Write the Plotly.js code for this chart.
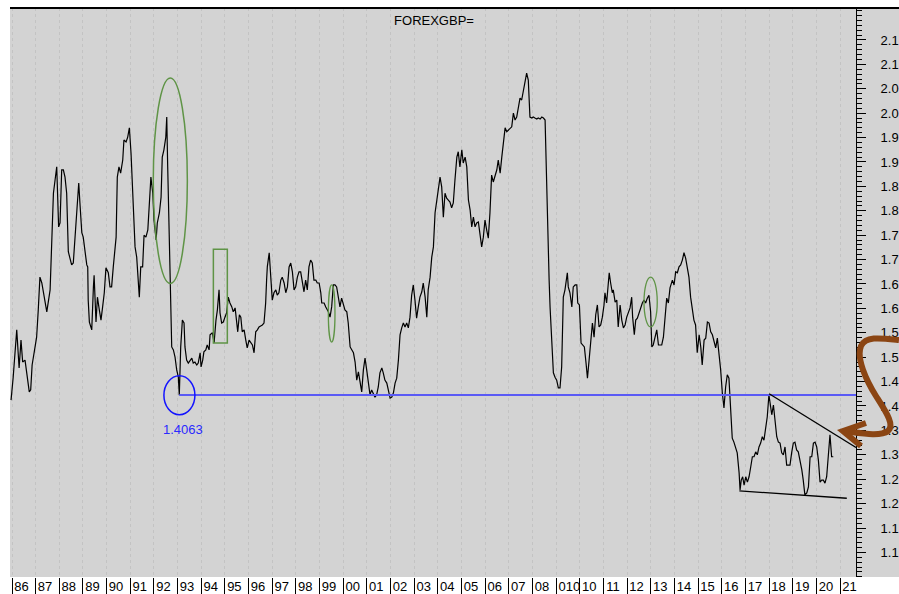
<!DOCTYPE html>
<html>
<head>
<meta charset="utf-8">
<script src="https://cdn.plot.ly/plotly-3.0.1.min.js"></script>
<style>html,body{margin:0;padding:0;background:#fff;}#chart{width:899px;height:594px;}</style>
</head>
<body>
<div id="chart"></div>
<script>
// ---- data (monthly-ish GBP/USD, decimal years) ----
const dates = [
1985.96,1986.05,1986.20,1986.30,1986.38,1986.45,1986.55,1986.62,1986.73,1986.79,1986.85,1986.94,
1987.04,1987.11,1987.18,1987.26,1987.37,1987.47,1987.61,1987.68,1987.75,1987.82,1987.89,1987.97,
1988.03,1988.10,1988.17,1988.24,1988.31,1988.38,1988.45,1988.52,1988.59,1988.66,1988.73,1988.82,1988.87,1988.95,
1989.01,1989.09,1989.16,1989.20,1989.22,1989.27,1989.37,1989.44,1989.47,1989.55,1989.61,1989.69,1989.76,1989.83,1989.90,1989.97,
1990.07,1990.14,1990.21,1990.28,1990.35,1990.40,1990.45,1990.52,1990.59,1990.68,1990.73,1990.82,1990.89,1990.96,
1991.03,1991.10,1991.16,1991.20,1991.27,1991.34,1991.38,1991.44,1991.52,1991.58,1991.66,1991.74,1991.80,1991.87,1991.95,
1992.00,1992.09,1992.14,1992.23,1992.30,1992.35,1992.42,1992.50,1992.54,1992.58,1992.64,1992.68,1992.71,1992.75,1992.82,1992.89,1992.96,
1993.03,1993.07,1993.13,1993.20,1993.27,1993.31,1993.38,1993.45,1993.52,1993.60,1993.66,1993.73,1993.81,1993.87,1993.95,1993.99,
1994.06,1994.11,1994.19,1994.25,1994.33,1994.37,1994.47,1994.54,1994.62,1994.68,1994.75,1994.79,1994.86,1994.93,
1995.00,1995.07,1995.14,1995.21,1995.29,1995.35,1995.43,1995.50,1995.54,1995.61,1995.67,1995.73,1995.81,1995.88,1995.94,
1996.02,1996.09,1996.16,1996.23,1996.30,1996.37,1996.44,1996.51,1996.58,1996.65,1996.72,1996.76,1996.79,1996.87,1996.93,
1997.00,1997.07,1997.15,1997.21,1997.28,1997.36,1997.42,1997.50,1997.57,1997.64,1997.71,1997.78,1997.85,1997.92,1997.99,
1998.06,1998.13,1998.20,1998.27,1998.34,1998.41,1998.48,1998.55,1998.62,1998.69,1998.76,1998.84,1998.90,1998.98,
1999.05,1999.09,1999.19,1999.26,1999.37,1999.44,1999.51,1999.58,1999.65,1999.72,1999.79,1999.86,1999.93,
2000.00,2000.07,2000.15,2000.21,2000.29,2000.36,2000.43,2000.50,2000.57,2000.64,2000.71,2000.78,2000.85,2000.92,2000.99,
2001.06,2001.13,2001.20,2001.27,2001.34,2001.41,2001.48,2001.55,2001.63,2001.69,2001.76,2001.84,2001.90,2001.98,
2002.05,2002.12,2002.19,2002.26,2002.33,2002.40,2002.47,2002.54,2002.61,2002.68,2002.75,2002.82,2002.89,2002.96,
2003.03,2003.10,2003.17,2003.24,2003.32,2003.38,2003.46,2003.53,2003.59,2003.67,2003.74,2003.81,2003.88,2003.95,
2004.02,2004.09,2004.16,2004.23,2004.30,2004.37,2004.44,2004.51,2004.58,2004.65,2004.72,2004.80,2004.86,2004.93,
2005.01,2005.07,2005.15,2005.22,2005.29,2005.36,2005.43,2005.50,2005.57,2005.64,2005.71,2005.78,2005.85,2005.92,2005.99,
2006.06,2006.13,2006.20,2006.27,2006.34,2006.41,2006.49,2006.55,2006.63,2006.70,2006.76,2006.84,2006.91,2006.98,
2007.05,2007.12,2007.19,2007.26,2007.33,2007.40,2007.47,2007.54,2007.61,2007.68,2007.75,2007.82,2007.89,2007.97,
2008.03,2008.10,2008.18,2008.24,2008.32,2008.39,2008.46,2008.53,2008.60,2008.67,2008.70,2008.74,2008.81,2008.88,2008.95,
2009.02,2009.09,2009.16,2009.23,2009.30,2009.37,2009.44,2009.47,2009.51,2009.58,2009.66,2009.72,2009.80,2009.87,2009.91,2009.98,
2010.05,2010.12,2010.19,2010.26,2010.32,2010.39,2010.46,2010.53,2010.60,2010.67,2010.74,2010.81,2010.88,2010.95,
2011.02,2011.06,2011.13,2011.20,2011.24,2011.30,2011.37,2011.41,2011.49,2011.56,2011.62,2011.70,2011.77,2011.84,2011.91,2011.98,
2012.05,2012.12,2012.19,2012.23,2012.30,2012.36,2012.43,2012.50,2012.57,2012.64,2012.71,2012.78,2012.85,2012.92,2012.99,
2013.04,2013.10,2013.18,2013.25,2013.32,2013.39,2013.46,2013.53,2013.60,2013.67,2013.74,2013.81,2013.91,2013.98,
2014.05,2014.12,2014.19,2014.26,2014.33,2014.40,2014.47,2014.54,2014.61,2014.68,2014.75,2014.82,2014.89,2014.96,
2015.04,2015.11,2015.17,2015.25,2015.32,2015.39,2015.46,2015.53,2015.60,2015.67,2015.74,2015.81,2015.88,2015.95,
2016.02,2016.09,2016.16,2016.23,2016.30,2016.37,2016.44,2016.51,2016.59,2016.65,2016.73,2016.77,2016.82,2016.88,2016.94,
2017.01,2017.08,2017.15,2017.22,2017.29,2017.36,2017.43,2017.50,2017.57,2017.64,2017.71,2017.78,2017.85,2017.92,2017.99,
2018.03,2018.11,2018.18,2018.25,2018.32,2018.39,2018.46,2018.53,2018.60,2018.67,2018.74,2018.81,2018.88,2018.95,
2019.02,2019.09,2019.16,2019.23,2019.31,2019.38,2019.44,2019.51,2019.59,2019.66,2019.73,2019.80,2019.87,2019.94,
2020.01,2020.08,2020.15,2020.22,2020.29,2020.36,2020.43,2020.50,2020.57,2020.64,2020.71
];
const gbp = [
1.396,1.443,1.540,1.462,1.519,1.474,1.478,1.454,1.413,1.417,1.468,1.495,
1.525,1.581,1.648,1.636,1.605,1.577,1.622,1.710,1.820,1.847,1.874,1.751,
1.759,1.868,1.868,1.853,1.820,1.700,1.689,1.673,1.677,1.724,1.780,1.841,1.800,1.739,
1.730,1.698,1.673,1.669,1.601,1.556,1.540,1.628,1.652,1.556,1.607,1.581,1.560,1.587,1.616,1.667,
1.657,1.628,1.628,1.669,1.698,1.730,1.853,1.874,1.861,1.888,1.929,1.925,1.935,1.954,
1.902,1.806,1.730,1.710,1.689,1.648,1.607,1.669,1.669,1.734,1.730,1.745,1.806,1.853,1.820,
1.765,1.724,1.759,1.780,1.812,1.894,1.909,1.935,1.976,1.874,1.739,1.636,1.632,1.505,1.499,1.484,1.458,
1.443,1.406,1.505,1.560,1.554,1.505,1.478,1.472,1.478,1.482,1.472,1.474,1.468,1.472,1.493,1.464,
1.478,1.495,1.499,1.509,1.499,1.530,1.534,1.513,1.560,1.581,1.622,1.575,1.554,1.556,
1.566,1.575,1.607,1.595,1.587,1.577,1.585,1.556,1.536,1.571,1.566,1.536,1.540,1.519,1.503,
1.519,1.513,1.509,1.493,1.536,1.540,1.546,1.548,1.550,1.554,1.595,1.642,1.669,1.698,1.648,
1.601,1.616,1.622,1.611,1.616,1.642,1.648,1.636,1.616,1.628,1.669,1.677,1.659,1.622,1.628,
1.648,1.659,1.659,1.642,1.618,1.642,1.622,1.669,1.683,1.677,1.642,1.642,1.636,1.636,
1.616,1.595,1.595,1.587,1.577,1.566,1.587,1.632,1.632,1.628,1.607,1.587,1.605,
1.595,1.581,1.577,1.554,1.505,1.499,1.493,1.474,1.437,1.454,1.433,1.413,1.458,1.482,1.458,
1.437,1.407,1.417,1.411,1.402,1.407,1.423,1.452,1.462,1.452,1.437,1.431,1.417,1.400,
1.402,1.411,1.431,1.441,1.478,1.530,1.544,1.554,1.546,1.554,1.544,1.566,1.611,1.632,
1.601,1.564,1.587,1.607,1.618,1.636,1.607,1.566,1.622,1.648,1.689,1.710,1.780,1.806,
1.833,1.853,1.833,1.771,1.820,1.810,1.806,1.802,1.790,1.800,1.847,1.894,1.905,1.874,
1.909,1.882,1.894,1.874,1.806,1.786,1.751,1.771,1.751,1.759,1.761,1.739,1.710,1.730,1.765,
1.745,1.728,1.780,1.857,1.843,1.853,1.868,1.888,1.861,1.894,1.923,1.954,1.946,1.950,
1.954,1.956,1.984,1.970,1.976,1.997,2.015,2.011,2.032,2.046,2.066,2.052,1.976,1.974,
1.976,1.974,1.972,1.974,1.972,1.976,1.974,1.970,1.806,1.704,1.642,1.587,1.519,1.452,1.443,
1.437,1.421,1.421,1.464,1.607,1.622,1.642,1.657,1.628,1.616,1.587,1.628,1.632,1.632,1.595,1.591,
1.513,1.509,1.505,1.472,1.441,1.478,1.519,1.554,1.525,1.571,1.591,1.546,1.550,1.566,
1.591,1.616,1.595,1.636,1.657,1.636,1.616,1.622,1.597,1.601,1.546,1.591,1.560,1.544,1.550,1.566,
1.577,1.585,1.607,1.566,1.530,1.560,1.564,1.575,1.585,1.595,1.601,1.595,1.605,1.611,1.577,
1.505,1.509,1.525,1.540,1.509,1.509,1.509,1.525,1.575,1.605,1.595,1.626,1.642,1.632,
1.659,1.657,1.669,1.673,1.683,1.698,1.687,1.669,1.648,1.607,1.587,1.560,1.550,1.493,
1.530,1.505,1.468,1.519,1.523,1.556,1.554,1.536,1.530,1.515,1.503,1.523,1.493,1.458,
1.411,1.380,1.423,1.448,1.441,1.370,1.318,1.310,1.298,1.288,1.247,1.212,1.232,1.239,1.222,
1.239,1.228,1.239,1.259,1.280,1.280,1.290,1.284,1.300,1.308,1.321,1.314,1.341,1.362,1.407,
1.396,1.366,1.386,1.355,1.321,1.310,1.308,1.288,1.284,1.300,1.263,1.263,1.263,1.288,
1.308,1.310,1.294,1.290,1.273,1.253,1.232,1.202,1.206,1.218,1.280,1.280,1.308,1.310,
1.300,1.273,1.228,1.232,1.232,1.226,1.239,1.280,1.325,1.280,1.280
];
const yearStarts = [];
for (let y = 1986; y <= 2021; y++) yearStarts.push(y);
const yearLabels = ["86","87","88","89","90","91","92","93","94","95","96","97","98","99",
  "00","01","02","03","04","05","06","07","08","010","10","11","12","13","14","15","16","17","18","19","20","21"];
const yTickVals = [];
for (let k = 0; k <= 21; k++) yTickVals.push(+(1.084 + 0.05 * k).toFixed(3));
const yTickText = ["1.1","1.1","1.2","1.2","1.3","1.3","1.4","1.4","1.5","1.5","1.6","1.6",
  "1.7","1.7","1.8","1.8","1.9","1.9","2.0","2.0","2.1","2.1"];
const lowLevel = 1.4063;

// ---- layout geometry ----
const W = 899, H = 594, L = 10, R = 43, T = 8, B = 17;
const pw = W - L - R, ph = H - T - B;
const pxPerYear = 23.66;
// label positions: text starts just right of each year separator
const xTickVals = yearLabels.map((t, i) => yearStarts[i] + (2 + t.length * 3.7) / pxPerYear);

function P(x, y) { return ((x - L) / pw).toFixed(4) + ',' + ((H - B - y) / ph).toFixed(4); }

const green = '#5f9446';
const shapes = [
  // gray strip behind right axis labels
  {type:'rect', xref:'paper', yref:'paper', x0:1, x1:(W - L) / pw, y0:0, y1:1,
   fillcolor:'#d3d3d3', line:{width:0}, layer:'below'},
  // top border
  {type:'line', xref:'paper', yref:'paper', x0:0, x1:(W - L) / pw, y0:1, y1:1,
   line:{color:'#000', width:2}},
  // 1.4063 support line
  {type:'line', xref:'x', yref:'y', x0:1993.07, x1:2021.67, y0:lowLevel, y1:lowLevel,
   line:{color:'#5a5af5', width:2}},
  {type:'circle', xref:'x', yref:'y', x0:1992.42, x1:1993.73, y0:1.366, y1:1.446,
   line:{color:'#1414ff', width:1.5}},
  // green highlights
  {type:'circle', xref:'x', yref:'y', x0:1991.97, x1:1993.41, y0:1.635, y1:2.056,
   line:{color:green, width:1.5}},
  {type:'rect', xref:'x', yref:'y', x0:1994.51, x1:1995.10, y0:1.513, y1:1.705,
   line:{color:green, width:1.5}},
  {type:'circle', xref:'x', yref:'y', x0:1999.37, x1:1999.65, y0:1.515, y1:1.632,
   line:{color:green, width:1.3}},
  {type:'circle', xref:'x', yref:'y', x0:2012.71, x1:2013.27, y0:1.546, y1:1.648,
   line:{color:green, width:1.3}},
  // triangle
  {type:'line', xref:'x', yref:'y', x0:2018.0, x1:2021.67, y0:1.409, y1:1.299,
   line:{color:'#000', width:1.3}},
  {type:'line', xref:'x', yref:'y', x0:2016.74, x1:2021.28, y0:1.210, y1:1.195,
   line:{color:'#000', width:1.3}},
  // brown curved arrow
  {type:'path', xref:'paper', yref:'paper',
   path:'M' + P(899,340) + ' C' + P(880,338) + ' ' + P(866,336) + ' ' + P(861,346) +
        ' C' + P(856,358) + ' ' + P(866,380) + ' ' + P(876,396) +
        ' C' + P(886,412) + ' ' + P(895,425) + ' ' + P(888,431) +
        ' C' + P(880,437) + ' ' + P(860,433) + ' ' + P(843,431),
   line:{color:'#8B4513', width:6}},
  {type:'path', xref:'paper', yref:'paper',
   path:'M' + P(866,423) + ' L' + P(843,431) + ' L' + P(861,446),
   line:{color:'#8B4513', width:6}}
];

const trace = {x: dates, y: gbp, type:'scatter', mode:'lines',
  line:{color:'#000', width:1.2}, hoverinfo:'skip'};

const layout = {
  width: W, height: H,
  margin:{l:L, r:R, t:T, b:B, pad:0},
  paper_bgcolor:'#ffffff', plot_bgcolor:'#d3d3d3',
  showlegend:false,
  font:{family:'"Liberation Sans", Arial, sans-serif', size:13, color:'#000'},
  title:{text:'FOREXGBP=', x:434 / W, xref:'container', y:1 - 20 / H, yref:'container',
         xanchor:'center', yanchor:'middle', font:{size:13, color:'#000'}},
  xaxis:{range:[1985.915, 2021.67], tickmode:'array', tickvals:xTickVals, ticktext:yearLabels,
    ticks:'', tickangle:0, automargin:false, showgrid:false, zeroline:false, showline:false, fixedrange:true,
    tickfont:{size:13, color:'#000'},
    minor:{tickmode:'linear', tick0:1986, dtick:1, ticks:'outside', ticklen:17, tickwidth:1,
      tickcolor:'#000', showgrid:true, gridcolor:'#c3c3c3', griddash:'dot', gridwidth:1}},
  yaxis:{side:'right', range:[1.0336, 2.1995], tickmode:'array', tickvals:yTickVals, ticktext:yTickText,
    ticks:'outside', ticklen:9, tickwidth:1, tickcolor:'#000', showline:true, linecolor:'#000', linewidth:1,
    showgrid:false, zeroline:false, fixedrange:true, ticklabelstandoff:12, automargin:false,
    tickfont:{size:13, color:'#000'},
    minor:{tickmode:'linear', tick0:1.084, dtick:0.01, ticks:'outside', ticklen:5, tickwidth:1,
      tickcolor:'#000', showgrid:false}},
  shapes: shapes,
  annotations:[{x:1993.23, y:1.335, xref:'x', yref:'y', text:String(lowLevel), showarrow:false,
    font:{size:13, color:'#2a2aff'}}]
};

Plotly.newPlot('chart', [trace], layout, {displayModeBar:false, staticPlot:true});
</script>
</body>
</html>
